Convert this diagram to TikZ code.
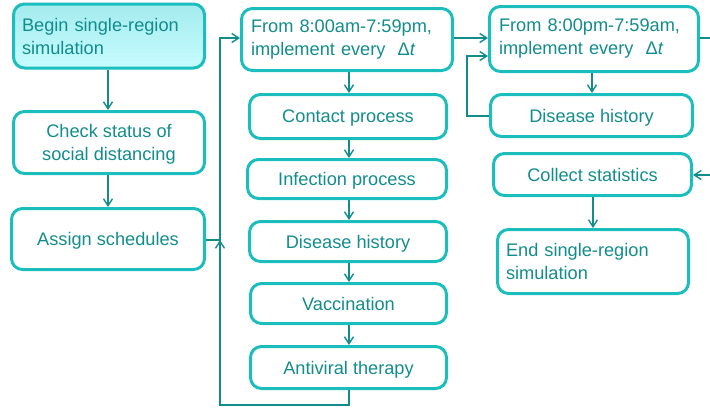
\documentclass[tikz,border=0pt]{standalone}
\usepackage{fontspec}
\setmainfont{Liberation Sans}
\usetikzlibrary{arrows.meta}
\definecolor{boxline}{HTML}{1BBDBD}
\definecolor{ink}{HTML}{138C8C}
\definecolor{fillA}{HTML}{A4EBEE}
\definecolor{fillB}{HTML}{C6FCFF}
\begin{document}
\begin{tikzpicture}[x=1pt,y=-1pt,
  basebox/.style={draw=boxline,line width=3pt,rounded corners=11pt,text=ink,
    font=\fontsize{18.2}{23}\selectfont,inner sep=0pt},
  box/.style={basebox,align=center,text depth=0pt},
  leftbox/.style={basebox,align=left},
  link/.style={draw=ink,line width=1.4pt,-{Straight Barb[length=7pt,width=9pt,line width=1.4pt]}},
  plain/.style={draw=ink,line width=1.4pt}]
\useasboundingbox (0,0) rectangle (710,408);

% left column
\node[leftbox,top color=fillA,bottom color=fillB,minimum width=191pt,minimum height=64pt,text width=174pt]
  (begin) at (109,36) {Begin single-region\\simulation};
\node[box,minimum width=191pt,minimum height=62pt] (check) at (109,142.5) {Check status of\\social distancing};
\node[box,minimum width=193pt,minimum height=61pt] (assign) at (108,239) {Assign schedules};

% day-time column
\node[leftbox,minimum width=211pt,minimum height=62pt,text width=192pt]
  (day) at (347,39.5) {From 8:00am-7:59pm,\\implement every~~Δ\textit{t}};
\node[box,minimum width=197pt,minimum height=44pt] (contact) at (348,116.5) {Contact process};
\node[box,minimum width=199pt,minimum height=39pt] (infect) at (347,179) {Infection process};
\node[box,minimum width=197pt,minimum height=40pt] (hist) at (348,241.5) {Disease history};
\node[box,minimum width=196pt,minimum height=40pt] (vacc) at (348.5,303.5) {Vaccination};
\node[box,minimum width=196pt,minimum height=42pt] (anti) at (348.5,367.5) {Antiviral therapy};

% night-time column
\node[leftbox,minimum width=209pt,minimum height=65pt,text width=190pt]
  (night) at (594,39) {From 8:00pm-7:59am,\\implement every~~Δ\textit{t}};
\node[box,minimum width=202pt,minimum height=42pt] (nhist) at (591.5,115.5) {Disease history};
\node[box,minimum width=198pt,minimum height=42pt] (collect) at (592.5,174.5) {Collect statistics};
\node[leftbox,minimum width=191pt,minimum height=64pt,text width=174pt]
  (finish) at (593,261.5) {End single-region\\simulation};

% junction points
\coordinate (j) at (220,240);
\coordinate (dayin) at (240,38);
\coordinate (nightout) at (710,38);
\coordinate (statin) at (710,175);

% left column flow
\draw[link] (begin.south -| 108,0) -- (check.north -| 108,0);
\draw[link] (check.south -| 108,0) -- (assign.north -| 108,0);
\draw[link] (assign.east |- j) -- (j) -- (220,38) -- (day.west |- dayin);
\draw[link] (anti.south -| 349,0) -- (349,405) -- (220,405) -- (j);

% day-time chain
\draw[link] (day.south -| 349,0) -- (contact.north -| 349,0);
\draw[link] (contact.south -| 349,0) -- (infect.north -| 349,0);
\draw[link] (infect.south -| 349,0) -- (hist.north -| 349,0);
\draw[link] (hist.south -| 349,0) -- (vacc.north -| 349,0);
\draw[link] (vacc.south -| 349,0) -- (anti.north -| 349,0);
\draw[link] (day.east |- 0,38) -- (night.west |- 0,38);

% night-time loop
\draw[link] (night.south -| 592,0) -- (nhist.north -| 592,0);
\draw[link] (nhist.west |- 0,116) -- (467,116) -- (467,56) -- (night.west |- 0,56);
\draw[plain] (night.east |- nightout) -- (nightout);
\draw[link] (statin) -- (collect.east |- statin);
\draw[link] (collect.south -| 593,0) -- (finish.north -| 593,0);
\end{tikzpicture}
\end{document}
